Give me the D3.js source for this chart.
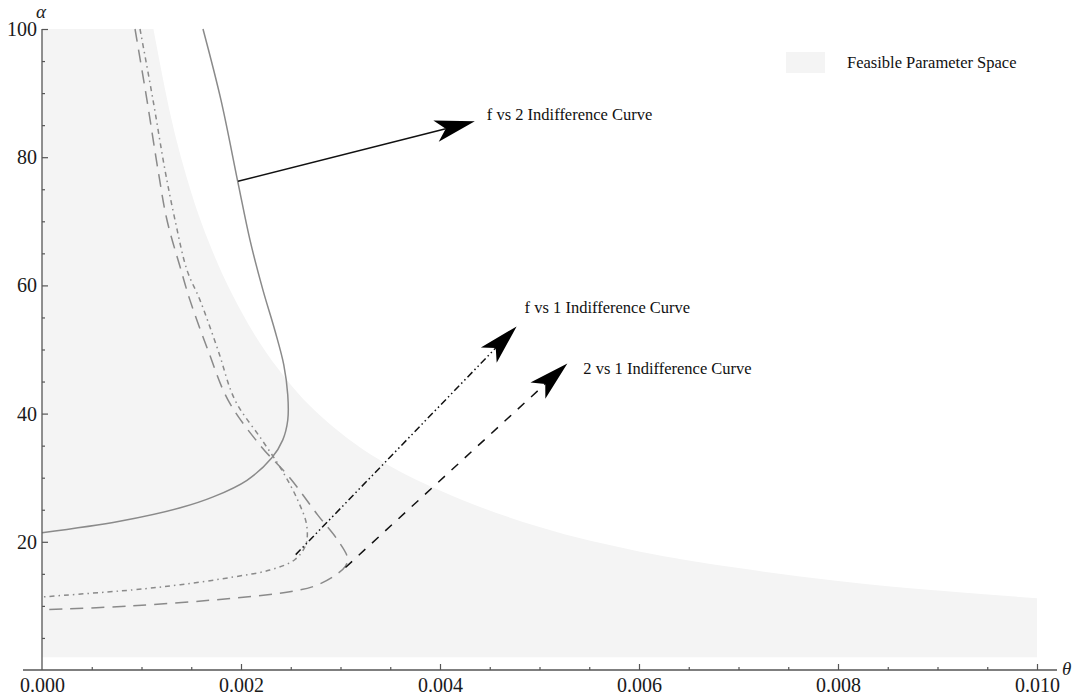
<!DOCTYPE html>
<html>
<head>
<meta charset="utf-8">
<script src="https://cdn.jsdelivr.net/npm/d3@7"></script>
<style>
  html, body { margin: 0; padding: 0; background: #fff; }
  svg { display: block; }
  text { font-family: "Liberation Serif", "Times New Roman", serif; }
</style>
</head>
<body>
<svg id="chart" width="1078" height="700"></svg>
<script>
// ---------------- data (θ, α) ----------------
const thetaTicks = [0, 0.002, 0.004, 0.006, 0.008, 0.010];
const thetaTickLabels = ["0.000", "0.002", "0.004", "0.006", "0.008", "0.010"];
const thetaMinorTicks = [0.0005,0.001,0.0015,0.0025,0.003,0.0035,0.0045,0.005,0.0055,0.0065,0.007,0.0075,0.0085,0.009,0.0095];
const alphaTicks = [20, 40, 60, 80, 100];
const alphaTickLabels = ["20", "40", "60", "80", "100"];
const alphaMinorTicks = [5,10,15,25,30,35,45,50,55,65,70,75,85,90,95];

// upper boundary of the feasible region
const feasibleTheta = [0.00112, 0.0013, 0.0015, 0.00175, 0.002, 0.0025, 0.003, 0.0035, 0.004, 0.005, 0.006, 0.007, 0.008, 0.009, 0.010];
const feasibleAlpha = [100, 86, 74.5, 64, 56, 44.5, 37, 31.8, 28, 22.3, 18.5, 15.9, 13.9, 12.4, 11.2];
const feasibleFloor = 2;
const feasibleThetaMin = 0;

// f vs 2 indifference curve (solid)
const fv2Theta = [0.001618, 0.001799, 0.00197, 0.00209, 0.00222, 0.00234, 0.00243, 0.00247, 0.00247, 0.00242, 0.00231, 0.00206, 0.00172, 0.00139, 0.00078, 0];
const fv2Alpha = [100, 88.9, 76.0, 67.1, 59.3, 53.0, 47.6, 42.9, 39.0, 35.9, 33.1, 29.6, 27.0, 25.3, 23.2, 21.4];

// f vs 1 indifference curve (dash-dot)
const fv1Theta = [0.000985, 0.001116, 0.001236, 0.001337, 0.001457, 0.001588, 0.001769, 0.00194, 0.00221, 0.00241, 0.00257, 0.00266, 0.00265, 0.00254, 0.00229, 0.00192, 0.00139, 0.00091, 0];
const fv1Alpha = [100, 88.9, 78.0, 70.2, 62.4, 57.7, 49.9, 42.1, 35.9, 31.2, 26.5, 22.6, 19.5, 17.2, 15.6, 14.5, 13.3, 12.5, 11.4];

// 2 vs 1 indifference curve (dashed)
const tv1Theta = [0.000935, 0.001055, 0.001166, 0.001256, 0.001397, 0.001487, 0.001668, 0.00187, 0.00219, 0.00249, 0.00277, 0.00297, 0.00307, 0.00305, 0.00294, 0.00274, 0.00249, 0.00192, 0.00091, 0];
const tv1Alpha = [100, 88.9, 78.0, 70.2, 62.4, 57.7, 49.9, 42.1, 35.1, 30.0, 24.2, 20.3, 17.5, 16.2, 14.7, 13.1, 12.2, 11.2, 10.0, 9.4];

// annotation arrows: [start, tip] in (θ, α)
const arrowNames = ["f vs 2 Indifference Curve", "f vs 1 Indifference Curve", "2 vs 1 Indifference Curve"];
const arrowStartTheta = [0.00197, 0.00255, 0.00305];
const arrowStartAlpha = [76.25, 18.0, 16.0];
const arrowTipTheta = [0.00435, 0.00477, 0.00528];
const arrowTipAlpha = [85.6, 53.6, 47.8];
const legendLabel = "Feasible Parameter Space";

// ---------------- drawing ----------------
const svg = d3.select("#chart");
const x = d3.scaleLinear().domain([0, 0.010]).range([42, 1037]);
const y = d3.scaleLinear().domain([0, 100]).range([670, 29]);
const shade = "#f4f4f4";
const curveGray = "#8a8a8a";

const zip = (a, b) => a.map((v, i) => [v, b[i]]);

// feasible region
const boundary = zip(feasibleTheta, feasibleAlpha);
const bLine = d3.line().x(d => x(d[0])).y(d => y(d[1])).curve(d3.curveMonotoneX);
const regionPath = `M${x(feasibleThetaMin)},${y(feasibleFloor)}L${x(feasibleThetaMin)},${y(feasibleAlpha[0])}L` +
  bLine(boundary).slice(1) + `L${x(feasibleTheta[feasibleTheta.length-1])},${y(feasibleFloor)}Z`;
svg.append("path").attr("d", regionPath).attr("fill", shade);

// curves
const cLine = d3.line().x(d => x(d[0])).y(d => y(d[1])).curve(d3.curveCatmullRom.alpha(0.5));
svg.append("path").attr("d", cLine(zip(fv2Theta, fv2Alpha)))
  .attr("fill", "none").attr("stroke", curveGray).attr("stroke-width", 1.5);
svg.append("path").attr("d", cLine(zip(fv1Theta, fv1Alpha)))
  .attr("fill", "none").attr("stroke", curveGray).attr("stroke-width", 1.5)
  .attr("stroke-dasharray", "5,4,1.5,4");
svg.append("path").attr("d", cLine(zip(tv1Theta, tv1Alpha)))
  .attr("fill", "none").attr("stroke", curveGray).attr("stroke-width", 1.5)
  .attr("stroke-dasharray", "13,8");

// arrows
const arrowDash = [null, "7,3,1.5,3,1.5,3", "9,9"];
const labelOffset = [[12, -1], [8, -13], [16, 10]];
arrowNames.forEach((name, i) => {
  const x0 = x(arrowStartTheta[i]), y0 = y(arrowStartAlpha[i]);
  const x1 = x(arrowTipTheta[i]), y1 = y(arrowTipAlpha[i]);
  const dx = x1 - x0, dy = y1 - y0, len = Math.hypot(dx, dy);
  const ux = dx / len, uy = dy / len, nx = -uy, ny = ux;
  const L = 40, W = 11, N = 10;
  const nxp = x1 - (L - N) * ux, nyp = y1 - (L - N) * uy;
  const ln = svg.append("line").attr("x1", x0).attr("y1", y0).attr("x2", nxp).attr("y2", nyp)
    .attr("stroke", "#111").attr("stroke-width", 1.5);
  if (arrowDash[i]) ln.attr("stroke-dasharray", arrowDash[i]);
  const head = [[x1, y1], [x1 - L*ux + W*nx, y1 - L*uy + W*ny], [nxp, nyp], [x1 - L*ux - W*nx, y1 - L*uy - W*ny]];
  svg.append("path").attr("d", "M" + head.map(p => p.join(",")).join("L") + "Z").attr("fill", "#000");
  svg.append("text").attr("x", x1 + labelOffset[i][0]).attr("y", y1 + labelOffset[i][1])
    .attr("font-size", 16.5).attr("fill", "#111").text(name);
});

// legend
svg.append("rect").attr("x", 786).attr("y", 52).attr("width", 39).attr("height", 21).attr("fill", shade);
svg.append("text").attr("x", 847).attr("y", 68).attr("font-size", 16.5).attr("fill", "#111").text(legendLabel);

// axes
const axisColor = "#555";
const gx = svg.append("g").attr("transform", `translate(0,${y(0)})`);
gx.call(d3.axisBottom(x).tickValues(thetaMinorTicks).tickSize(-3).tickSizeOuter(0).tickFormat(""));
gx.call(g => g.select(".domain").remove());
const gx2 = svg.append("g").attr("transform", `translate(0,${y(0)})`);
gx2.call(d3.axisBottom(x).tickValues(thetaTicks).tickSize(-6).tickSizeOuter(0).tickPadding(8)
  .tickFormat((d, i) => thetaTickLabels[i]));
gx2.call(g => g.select(".domain").remove());

const gy = svg.append("g").attr("transform", `translate(${x(0)},0)`);
gy.call(d3.axisLeft(y).tickValues(alphaMinorTicks).tickSize(-3).tickSizeOuter(0).tickFormat(""));
gy.call(g => g.select(".domain").remove());
const gy2 = svg.append("g").attr("transform", `translate(${x(0)},0)`);
gy2.call(d3.axisLeft(y).tickValues(alphaTicks).tickSize(-6).tickSizeOuter(0).tickPadding(5)
  .tickFormat((d, i) => alphaTickLabels[i]));
gy2.call(g => g.select(".domain").remove());

[gx, gx2, gy, gy2].forEach(g => {
  g.selectAll("line").attr("stroke", axisColor).attr("stroke-width", 1.2);
  g.selectAll("text").attr("font-family", "Liberation Serif").attr("font-size", 20).attr("fill", "#1a1a1a");
});
gx2.selectAll(".tick").filter(d => d === 0).select("line").remove();

svg.append("line").attr("x1", 23).attr("x2", 1057).attr("y1", y(0)).attr("y2", y(0))
  .attr("stroke", axisColor).attr("stroke-width", 1.3);
svg.append("line").attr("x1", x(0)).attr("x2", x(0)).attr("y1", y(100)).attr("y2", y(0))
  .attr("stroke", axisColor).attr("stroke-width", 1.3);

svg.append("text").attr("x", 36).attr("y", 18).attr("font-size", 19).attr("font-style", "italic")
  .attr("fill", "#222").text("α");
svg.append("text").attr("x", 1062).attr("y", 675).attr("font-size", 19).attr("font-style", "italic")
  .attr("fill", "#222").text("θ");
</script>
</body>
</html>
